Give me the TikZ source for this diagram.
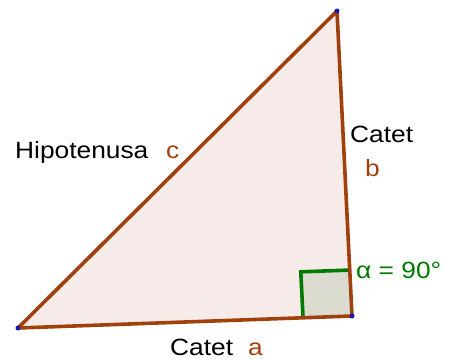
\documentclass[tikz,border=0pt]{standalone}
\usepackage{fontspec}
\usetikzlibrary{calc}
\setmainfont[FakeStretch=1.12]{Liberation Sans}
\definecolor{edge}{HTML}{A0410D}
\definecolor{tri}{HTML}{F6EBE8}
\definecolor{ang}{HTML}{007A00}
\definecolor{sq}{HTML}{DBDCCF}
\definecolor{pt}{HTML}{1A1AA6}
\tikzset{
  lbl/.style={anchor=base west,inner sep=0pt,font=\fontsize{23.5}{27}\selectfont},
  side/.style={draw=edge,line width=3.6pt,line join=round},
  vdot/.style={circle,fill=pt,inner sep=0pt,minimum size=5pt}
}
\begin{document}
\begin{tikzpicture}[x=1pt,y=-1pt]
\useasboundingbox (0,0) rectangle (452,360);
\coordinate (A) at (18,328);
\coordinate (B) at (352,316);
\coordinate (C) at (337,11);
\fill[tri] (A) -- (B) -- (C) -- cycle;
\coordinate (P) at ($(B)!49pt!(A)$);
\coordinate (Q) at ($(B)!46pt!(C)$);
\coordinate (R) at ($(P)+(Q)-(B)$);
\fill[sq] (B) -- (P) -- (R) -- (Q) -- cycle;
\draw[ang,line width=3.6pt,line join=miter] (P) -- (R) -- (Q);
\draw[side] (A) -- (B) -- (C) -- cycle;
\node[vdot] (a) at (A) {};
\node[vdot] (b) at (B) {};
\node[vdot] (c) at (C) {};
\node[lbl] (hip) at (15,158) {Hipotenusa};
\node[lbl,text=edge] (lc) at (166,158) {c};
\node[lbl] (cb) at (350,142) {Catet};
\node[lbl,text=edge] (lb) at (365,176) {b};
\node[lbl] (ca) at (170,355) {Catet};
\node[lbl,text=edge] (la) at (248,355) {a};
\node[lbl,text=ang] (alpha) at (356,278) {α = 90°};
\end{tikzpicture}
\end{document}
